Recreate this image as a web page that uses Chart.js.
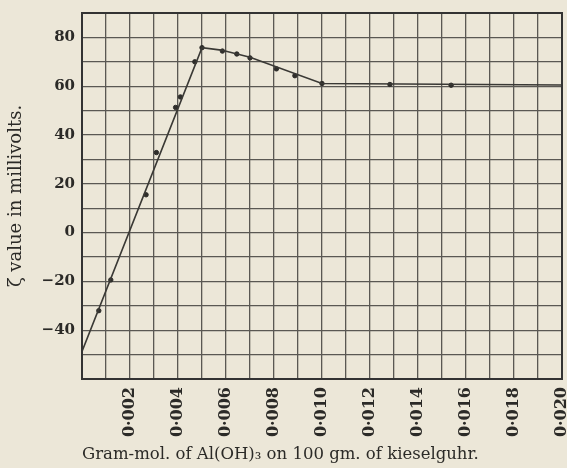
<!DOCTYPE html>
<html>
<head>
<meta charset="utf-8">
<script src="https://cdn.jsdelivr.net/npm/chart.js@4/dist/chart.umd.min.js"></script>
<style>
  html, body { margin: 0; padding: 0; background: #ece7d8; overflow: hidden; }
  #wrap { width: 567px; height: 468px; }
  canvas { display: block; }
</style>
</head>
<body>
<div id="wrap"><canvas id="zeta"></canvas></div>
<script>
// measured points (gram-mol Al(OH)3, zeta in mV)
const molAl = [0.0007, 0.0012, 0.00267, 0.0031, 0.0039, 0.0041, 0.0047, 0.0050, 0.00585, 0.00645, 0.0070, 0.0081, 0.00887, 0.0100, 0.01283, 0.01538];
const zeta = [-32, -19.4, 15.5, 32.8, 51.3, 55.6, 70, 75.8, 74.4, 73.2, 71.6, 67.1, 64.3, 61.1, 60.7, 60.4];

// drawn curve through the points
const curveX = [0, 0.0050, 0.0058, 0.0070, 0.0100, 0.0200];
const curveY = [-48.7, 75.8, 74.8, 71.9, 61.1, 60.5];

// tick labels
const xTickLabels = ['0·002', '0·004', '0·006', '0·008', '0·010', '0·012', '0·014', '0·016', '0·018', '0·020'];
const yTickLabels = { 80: '80', 60: '60', 40: '40', 20: '20', 0: '0', '-20': '−20', '-40': '−40' };

const ink = '#333';
const gridInk = '#5a5853';
const textInk = '#2b2a27';

const paper = {
  id: 'paper',
  beforeDraw(chart) {
    const c = chart.ctx;
    c.save();
    c.fillStyle = '#ece7d8';
    c.fillRect(0, 0, chart.width, chart.height);
    c.restore();
  },
  afterDatasetsDraw(chart) {
    const a = chart.chartArea, c = chart.ctx;
    c.save();
    c.strokeStyle = ink;
    c.lineWidth = 2;
    c.strokeRect(a.left, a.top, a.right - a.left, a.bottom - a.top);
    c.restore();
  }
};

new Chart(document.getElementById('zeta'), {
  type: 'scatter',
  data: {
    datasets: [
      {
        data: curveX.map((x, i) => ({ x, y: curveY[i] })),
        showLine: true,
        borderColor: '#3a3935',
        borderWidth: 1.6,
        pointRadius: 0,
        tension: 0
      },
      {
        data: molAl.map((x, i) => ({ x, y: zeta[i] })),
        backgroundColor: '#2f2e2b',
        borderColor: '#2f2e2b',
        pointRadius: 2.2
      }
    ]
  },
  options: {
    responsive: true,
    maintainAspectRatio: false,
    animation: false,
    layout: { padding: { left: 0, top: 13, right: 2, bottom: 0 } },
    plugins: {
      legend: { display: false },
      tooltip: { enabled: false }
    },
    scales: {
      x: {
        type: 'linear',
        min: 0,
        max: 0.02,
        afterFit(s) {
          s.height = 89;
          s.paddingLeft = 0;
          s.paddingRight = 0;
          if (s._margins) { s._margins.left = 0; s._margins.right = 0; }
        },
        afterBuildTicks(s) {
          s.ticks = [];
          for (let i = 0; i <= 20; i++) s.ticks.push({ value: i / 1000 });
        },
        grid: { color: gridInk, lineWidth: 1.3, drawTicks: false },
        border: { display: false },
        ticks: {
          minRotation: 90,
          maxRotation: 90,
          autoSkip: false,
          padding: 8,
          color: textInk,
          font: { family: 'DejaVu Serif', size: 16, weight: 'bold' },
          callback(v, i) {
            return (i % 2 === 0 && i > 0) ? xTickLabels[i / 2 - 1] : '';
          }
        },
        title: {
          display: true,
          align: 'start',
          text: 'Gram-mol. of Al(OH)₃ on 100 gm. of kieselguhr.',
          color: textInk,
          font: { family: 'DejaVu Serif', size: 16.5 },
          padding: { top: 0, bottom: 3 }
        }
      },
      y: {
        min: -60,
        max: 90,
        afterFit(s) {
          s.width = 82;
          s.paddingTop = 0;
          s.paddingBottom = 0;
        },
        afterBuildTicks(s) {
          s.ticks = [];
          for (let v = -60; v <= 90; v += 10) s.ticks.push({ value: v });
        },
        grid: { color: gridInk, lineWidth: 1.3, drawTicks: false },
        border: { display: false },
        ticks: {
          autoSkip: false,
          padding: 7,
          color: textInk,
          font: { family: 'DejaVu Serif', size: 15, weight: 'bold' },
          callback(v) {
            return yTickLabels[v] !== undefined ? yTickLabels[v] : '';
          }
        },
        title: {
          display: true,
          text: 'ζ value in millivolts.',
          color: textInk,
          font: { family: 'DejaVu Serif', size: 18 },
          padding: { top: 6, bottom: 0 }
        }
      }
    }
  },
  plugins: [paper]
});
</script>
</body>
</html>
